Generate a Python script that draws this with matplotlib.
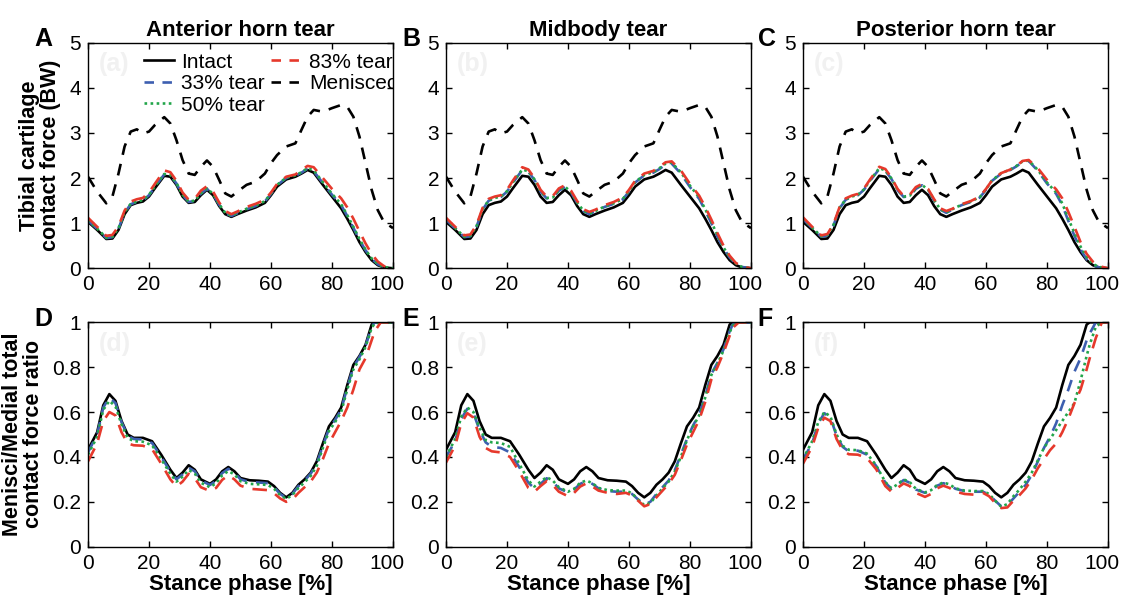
import numpy as np
import matplotlib
matplotlib.use("Agg")
import matplotlib.pyplot as plt
from matplotlib.lines import Line2D
from matplotlib.transforms import ScaledTranslation

plt.rcParams['font.family'] = ['Liberation Sans', 'DejaVu Sans']

# ============================
# data
# ============================
# top row: tibial cartilage contact force [BW]
force_x = [0, 3, 6, 8, 10, 12, 14, 16, 18, 20, 22, 25, 27, 29, 31, 33, 35, 37, 39, 41, 43, 45, 47,
           49, 52, 55, 58, 60, 62, 65, 68, 70, 72, 74, 77, 80, 83, 85, 87, 89, 91, 93, 95, 97, 100]

intact_force = [1.03, 0.85, 0.65, 0.66, 0.85, 1.20, 1.40, 1.45, 1.48, 1.59, 1.78, 2.05, 2.03, 1.85, 1.59,
                1.45, 1.47, 1.62, 1.74, 1.62, 1.38, 1.20, 1.14, 1.20, 1.28, 1.35, 1.45, 1.62, 1.81, 1.97,
                2.03, 2.10, 2.18, 2.12, 1.85, 1.59, 1.33, 1.10, 0.85, 0.58, 0.36, 0.18, 0.07, 0.02, 0.0]
menisc_force = [2.03, 1.70, 1.44, 1.59, 2.10, 2.70, 3.03, 3.08, 2.99, 3.03, 3.18, 3.35, 3.21, 2.84, 2.40,
                2.10, 2.07, 2.25, 2.39, 2.25, 1.96, 1.66, 1.59, 1.70, 1.85, 1.92, 2.10, 2.33, 2.51, 2.70,
                2.77, 3.07, 3.36, 3.51, 3.47, 3.55, 3.62, 3.58, 3.36, 2.92, 2.33, 1.74, 1.29, 1.03, 0.89]

# anterior horn tear
a33_force = [1.06, 0.87, 0.67, 0.69, 0.88, 1.23, 1.42, 1.47, 1.50, 1.62, 1.81, 2.08, 2.06, 1.88, 1.62,
             1.47, 1.49, 1.65, 1.76, 1.64, 1.41, 1.22, 1.16, 1.22, 1.31, 1.38, 1.48, 1.65, 1.84, 2.00,
             2.05, 2.12, 2.21, 2.15, 1.89, 1.63, 1.40, 1.16, 0.90, 0.63, 0.40, 0.21, 0.09, 0.03, 0.0]
a50_force = [1.07, 0.88, 0.68, 0.70, 0.89, 1.24, 1.43, 1.48, 1.51, 1.63, 1.82, 2.09, 2.07, 1.89, 1.63,
             1.48, 1.50, 1.66, 1.77, 1.65, 1.42, 1.23, 1.17, 1.23, 1.32, 1.39, 1.49, 1.66, 1.85, 2.01,
             2.06, 2.13, 2.22, 2.17, 1.91, 1.65, 1.42, 1.18, 0.92, 0.65, 0.41, 0.22, 0.10, 0.03, 0.0]
a83_force = [1.12, 0.92, 0.72, 0.74, 0.93, 1.28, 1.48, 1.53, 1.56, 1.68, 1.88, 2.17, 2.13, 1.94, 1.68,
             1.52, 1.54, 1.72, 1.82, 1.70, 1.46, 1.27, 1.20, 1.26, 1.36, 1.43, 1.52, 1.68, 1.87, 2.03,
             2.08, 2.18, 2.27, 2.24, 2.00, 1.76, 1.55, 1.35, 1.10, 0.82, 0.55, 0.32, 0.15, 0.05, 0.0]

# midbody tear
b33_force = [1.08, 0.88, 0.69, 0.71, 0.92, 1.30, 1.50, 1.55, 1.58, 1.70, 1.90, 2.18, 2.14, 1.96, 1.70,
             1.55, 1.56, 1.72, 1.80, 1.68, 1.45, 1.27, 1.20, 1.26, 1.36, 1.43, 1.53, 1.70, 1.90, 2.06,
             2.12, 2.20, 2.30, 2.32, 2.10, 1.80, 1.54, 1.28, 1.00, 0.70, 0.44, 0.24, 0.10, 0.03, 0.0]
b50_force = [1.09, 0.89, 0.70, 0.72, 0.93, 1.31, 1.51, 1.56, 1.59, 1.71, 1.91, 2.19, 2.15, 1.97, 1.71,
             1.56, 1.57, 1.73, 1.81, 1.69, 1.46, 1.28, 1.21, 1.27, 1.37, 1.44, 1.54, 1.71, 1.91, 2.07,
             2.13, 2.22, 2.32, 2.34, 2.13, 1.83, 1.57, 1.31, 1.03, 0.73, 0.46, 0.25, 0.11, 0.03, 0.0]
b83_force = [1.12, 0.92, 0.73, 0.75, 0.96, 1.34, 1.54, 1.59, 1.62, 1.74, 1.95, 2.24, 2.19, 2.00, 1.74,
             1.59, 1.60, 1.77, 1.84, 1.72, 1.49, 1.31, 1.25, 1.30, 1.40, 1.47, 1.57, 1.74, 1.94, 2.10,
             2.16, 2.25, 2.35, 2.37, 2.17, 1.87, 1.61, 1.36, 1.08, 0.78, 0.50, 0.28, 0.12, 0.04, 0.0]

# posterior horn tear
c33_force = [1.09, 0.89, 0.70, 0.73, 0.95, 1.33, 1.52, 1.58, 1.62, 1.74, 1.94, 2.20, 2.16, 1.98, 1.73,
             1.58, 1.60, 1.76, 1.84, 1.73, 1.50, 1.30, 1.23, 1.30, 1.40, 1.47, 1.57, 1.74, 1.94, 2.10,
             2.18, 2.26, 2.36, 2.38, 2.16, 1.88, 1.65, 1.40, 1.05, 0.72, 0.42, 0.20, 0.07, 0.02, 0.0]
c50_force = [1.10, 0.90, 0.71, 0.74, 0.96, 1.34, 1.53, 1.59, 1.63, 1.75, 1.95, 2.22, 2.17, 1.99, 1.74,
             1.59, 1.61, 1.77, 1.85, 1.74, 1.51, 1.31, 1.24, 1.31, 1.41, 1.48, 1.58, 1.75, 1.95, 2.11,
             2.19, 2.27, 2.37, 2.39, 2.18, 1.90, 1.68, 1.44, 1.10, 0.78, 0.48, 0.25, 0.10, 0.03, 0.0]
c83_force = [1.13, 0.92, 0.73, 0.76, 0.98, 1.36, 1.55, 1.61, 1.65, 1.77, 1.97, 2.25, 2.20, 2.01, 1.76,
             1.60, 1.63, 1.80, 1.87, 1.76, 1.53, 1.33, 1.27, 1.32, 1.42, 1.49, 1.59, 1.76, 1.95, 2.11,
             2.19, 2.27, 2.38, 2.40, 2.22, 1.96, 1.75, 1.55, 1.25, 0.92, 0.58, 0.32, 0.15, 0.05, 0.0]

# bottom row: menisci / medial total contact force ratio
ratio_x = [0, 3, 5, 7, 9, 11, 13, 15, 18, 21, 24, 27, 29, 31, 33, 35, 37, 40, 42, 44, 46, 48, 50, 53,
           56, 59, 61, 63, 65, 67, 69, 71, 73, 75, 77, 79, 81, 83, 85, 87, 89, 91, 93, 94, 96, 98, 100]

intact_ratio = [0.432, 0.51, 0.63, 0.68, 0.65, 0.56, 0.50, 0.485, 0.485, 0.47, 0.41, 0.343, 0.306, 0.33,
                0.363, 0.343, 0.30, 0.28, 0.30, 0.336, 0.355, 0.336, 0.306, 0.296, 0.294, 0.29, 0.27,
                0.24, 0.22, 0.24, 0.276, 0.30, 0.33, 0.38, 0.46, 0.536, 0.574, 0.62, 0.72, 0.81, 0.85,
                0.90, 0.99, 1.0, 1.0, 1.0, 1.0]

d33_ratio = [0.42, 0.50, 0.62, 0.665, 0.64, 0.555, 0.495, 0.48, 0.478, 0.462, 0.40, 0.335, 0.30, 0.322,
             0.352, 0.336, 0.295, 0.275, 0.293, 0.328, 0.347, 0.33, 0.30, 0.288, 0.286, 0.283, 0.265,
             0.235, 0.218, 0.235, 0.27, 0.295, 0.325, 0.37, 0.45, 0.525, 0.565, 0.61, 0.71, 0.80, 0.845,
             0.895, 0.98, 1.0, 1.0, 1.0, 1.0]
d50_ratio = [0.41, 0.49, 0.61, 0.65, 0.625, 0.545, 0.485, 0.47, 0.468, 0.452, 0.39, 0.325, 0.29, 0.312,
             0.342, 0.326, 0.285, 0.265, 0.283, 0.318, 0.337, 0.322, 0.292, 0.28, 0.278, 0.275, 0.258,
             0.23, 0.213, 0.23, 0.262, 0.287, 0.315, 0.36, 0.44, 0.515, 0.555, 0.60, 0.70, 0.79, 0.835,
             0.89, 0.975, 0.995, 1.0, 1.0, 1.0]
d83_ratio = [0.38, 0.46, 0.56, 0.60, 0.585, 0.51, 0.46, 0.452, 0.45, 0.435, 0.37, 0.30, 0.268, 0.29,
             0.325, 0.305, 0.265, 0.248, 0.262, 0.298, 0.318, 0.30, 0.272, 0.258, 0.255, 0.252, 0.238,
             0.215, 0.20, 0.21, 0.24, 0.265, 0.29, 0.33, 0.39, 0.46, 0.51, 0.56, 0.62, 0.70, 0.79,
             0.84, 0.92, 0.96, 1.0, 1.0, 1.0]

e33_ratio = [0.40, 0.47, 0.57, 0.615, 0.595, 0.52, 0.465, 0.445, 0.44, 0.42, 0.355, 0.285, 0.26, 0.28,
             0.305, 0.29, 0.26, 0.242, 0.255, 0.28, 0.292, 0.28, 0.26, 0.248, 0.245, 0.245, 0.235,
             0.21, 0.188, 0.20, 0.235, 0.265, 0.295, 0.34, 0.41, 0.48, 0.54, 0.59, 0.67, 0.77, 0.82,
             0.88, 0.96, 0.99, 1.0, 1.0, 1.0]
e50_ratio = [0.40, 0.48, 0.58, 0.62, 0.60, 0.53, 0.475, 0.465, 0.462, 0.445, 0.37, 0.295, 0.268, 0.29,
             0.31, 0.295, 0.265, 0.245, 0.258, 0.285, 0.295, 0.283, 0.262, 0.252, 0.25, 0.25, 0.238,
             0.21, 0.185, 0.195, 0.228, 0.26, 0.29, 0.335, 0.40, 0.475, 0.535, 0.585, 0.665, 0.765,
             0.815, 0.875, 0.955, 0.985, 1.0, 1.0, 1.0]
e83_ratio = [0.375, 0.45, 0.55, 0.595, 0.575, 0.49, 0.44, 0.425, 0.42, 0.40, 0.335, 0.262, 0.245, 0.27,
             0.292, 0.275, 0.245, 0.225, 0.24, 0.268, 0.282, 0.268, 0.25, 0.24, 0.235, 0.24, 0.228,
             0.205, 0.18, 0.19, 0.22, 0.25, 0.28, 0.32, 0.385, 0.455, 0.51, 0.565, 0.645, 0.745, 0.80,
             0.865, 0.94, 0.975, 1.0, 1.0, 1.0]

f33_ratio = [0.39, 0.46, 0.55, 0.595, 0.575, 0.495, 0.445, 0.425, 0.428, 0.41, 0.36, 0.285, 0.258, 0.275,
             0.297, 0.285, 0.255, 0.24, 0.25, 0.272, 0.283, 0.275, 0.258, 0.248, 0.245, 0.245, 0.232,
             0.205, 0.18, 0.185, 0.215, 0.245, 0.275, 0.32, 0.38, 0.44, 0.49, 0.55, 0.63, 0.70, 0.78,
             0.84, 0.92, 0.95, 1.0, 1.0, 1.0]
f50_ratio = [0.39, 0.47, 0.555, 0.60, 0.58, 0.50, 0.45, 0.432, 0.43, 0.415, 0.362, 0.288, 0.26, 0.278,
             0.30, 0.288, 0.258, 0.242, 0.252, 0.275, 0.286, 0.278, 0.26, 0.25, 0.248, 0.248, 0.235,
             0.205, 0.178, 0.19, 0.225, 0.255, 0.29, 0.33, 0.385, 0.44, 0.48, 0.52, 0.56, 0.60, 0.64,
             0.74, 0.85, 0.90, 0.98, 1.0, 1.0]
f83_ratio = [0.37, 0.445, 0.53, 0.575, 0.56, 0.48, 0.43, 0.412, 0.41, 0.395, 0.345, 0.27, 0.245, 0.262,
             0.282, 0.27, 0.24, 0.222, 0.235, 0.26, 0.272, 0.262, 0.245, 0.235, 0.232, 0.24, 0.225,
             0.195, 0.172, 0.175, 0.205, 0.23, 0.26, 0.30, 0.35, 0.39, 0.43, 0.46, 0.51, 0.57, 0.64,
             0.70, 0.79, 0.84, 0.93, 1.0, 1.0]

titles = ["Anterior horn tear", "Midbody tear", "Posterior horn tear"]
letters = [["A", "B", "C"], ["D", "E", "F"]]
marks = [["(a)", "(b)", "(c)"], ["(d)", "(e)", "(f)"]]
labels = ["Intact", "33% tear", "50% tear", "83% tear", "Meniscec"]

force_tears = [(a33_force, a50_force, a83_force),
               (b33_force, b50_force, b83_force),
               (c33_force, c50_force, c83_force)]
ratio_tears = [(d33_ratio, d50_ratio, d83_ratio),
               (e33_ratio, e50_ratio, e83_ratio),
               (f33_ratio, f50_ratio, f83_ratio)]

# ============================
# styles
# ============================
BLUE = '#3d5fb0'
GREEN = '#22a54a'
RED = '#e6392c'
LW = 1.9
FS = 15
DASH = (0, (4.5, 3.5))
DASH_RED = (0, (5.5, 3.5))
DOT = (0, (1, 1.3))

fig = plt.figure(figsize=(11.23, 6.01), dpi=100)
W, H = 1123.0, 601.0
lefts = [88, 446, 803]
width = 305
letter_dx = [-0.175, -0.142, -0.148]


def style_axes(ax):
    ax.set_xlim(0, 100)
    ax.set_xticks([0, 20, 40, 60, 80, 100])
    ax.tick_params(direction='in', top=True, right=True, length=4, width=1,
                   labelsize=FS, pad=5)
    for sp in ax.spines.values():
        sp.set_linewidth(1.0)
    # the "100" label sits a little left of its tick in the original
    last = ax.get_xticklabels()[-1]
    last.set_transform(last.get_transform() +
                       ScaledTranslation(-4.5 / 72, 0, fig.dpi_scale_trans))


def draw_tears(ax, x, tears):
    t33, t50, t83 = tears
    ax.plot(x, t33, color=BLUE, lw=LW, ls=DASH)
    ax.plot(x, t50, color=GREEN, lw=LW, ls=DOT)
    ax.plot(x, t83, color=RED, lw=LW, ls=DASH_RED)


# legend proxies (shorter dashes so two show per handle, as in the original)
legend_handles = [
    Line2D([], [], color='black', lw=LW),
    Line2D([], [], color=BLUE, lw=LW, ls=(0, (3.6, 3.2))),
    Line2D([], [], color=GREEN, lw=LW, ls=DOT),
    Line2D([], [], color=RED, lw=LW, ls=(0, (3.6, 3.2))),
    Line2D([], [], color='black', lw=LW, ls=(0, (3.6, 3.2))),
]

for col in range(3):
    # ---------- top row ----------
    ax = fig.add_axes([lefts[col] / W, 1 - 268.3 / H, width / W, 225.6 / H])
    ax.plot(force_x, intact_force, color='black', lw=LW)
    draw_tears(ax, force_x, force_tears[col])
    ax.plot(force_x, menisc_force, color='black', lw=LW, ls=DASH)
    style_axes(ax)
    ax.set_ylim(0, 5)
    ax.set_yticks([0, 1, 2, 3, 4, 5])
    ax.set_title(titles[col], fontsize=FS + 1, fontweight='bold', pad=5)
    ax.text(letter_dx[col], 0.985, letters[0][col], transform=ax.transAxes,
            fontsize=FS + 3, fontweight='bold', ha='left', va='baseline')
    ax.text(0.035, 0.905, marks[0][col], transform=ax.transAxes, fontsize=FS + 3,
            fontweight='bold', color='#f1f1f1', va='center', zorder=0)
    if col == 0:
        ax.set_ylabel("Tibial cartilage\ncontact force (BW)", fontsize=FS + 0.5,
                      fontweight='bold', labelpad=6, linespacing=1.0)
        leg = ax.legend(legend_handles, labels, ncol=2, loc='upper left',
                        bbox_to_anchor=(0.135, 1.02), frameon=False, fontsize=FS,
                        handlelength=1.45, handletextpad=0.35, columnspacing=0.3,
                        labelspacing=0.12, borderpad=0.2)
        for t in leg.get_texts():
            t.set_clip_on(True)
            t.set_clip_box(ax.bbox)

    # ---------- bottom row ----------
    ax = fig.add_axes([lefts[col] / W, 1 - 546.7 / H, width / W, 224.4 / H])
    ax.plot(ratio_x, intact_ratio, color='black', lw=LW)
    draw_tears(ax, ratio_x, ratio_tears[col])
    style_axes(ax)
    ax.set_ylim(0, 1)
    ax.set_yticks([0, 0.2, 0.4, 0.6, 0.8, 1.0])
    ax.set_yticklabels(['0', '0.2', '0.4', '0.6', '0.8', '1'])
    ax.set_xlabel("Stance phase [%]", fontsize=FS + 1, fontweight='bold', labelpad=1)
    ax.text(letter_dx[col], 0.985, letters[1][col], transform=ax.transAxes,
            fontsize=FS + 3, fontweight='bold', ha='left', va='baseline')
    ax.text(0.035, 0.905, marks[1][col], transform=ax.transAxes, fontsize=FS + 3,
            fontweight='bold', color='#f1f1f1', va='center', zorder=0)
    if col == 0:
        ax.set_ylabel("Menisci/Medial total\ncontact force ratio", fontsize=FS + 0.5,
                      fontweight='bold', labelpad=6, linespacing=1.0)

fig.savefig("out.png", dpi=100)
plt.close(fig)
